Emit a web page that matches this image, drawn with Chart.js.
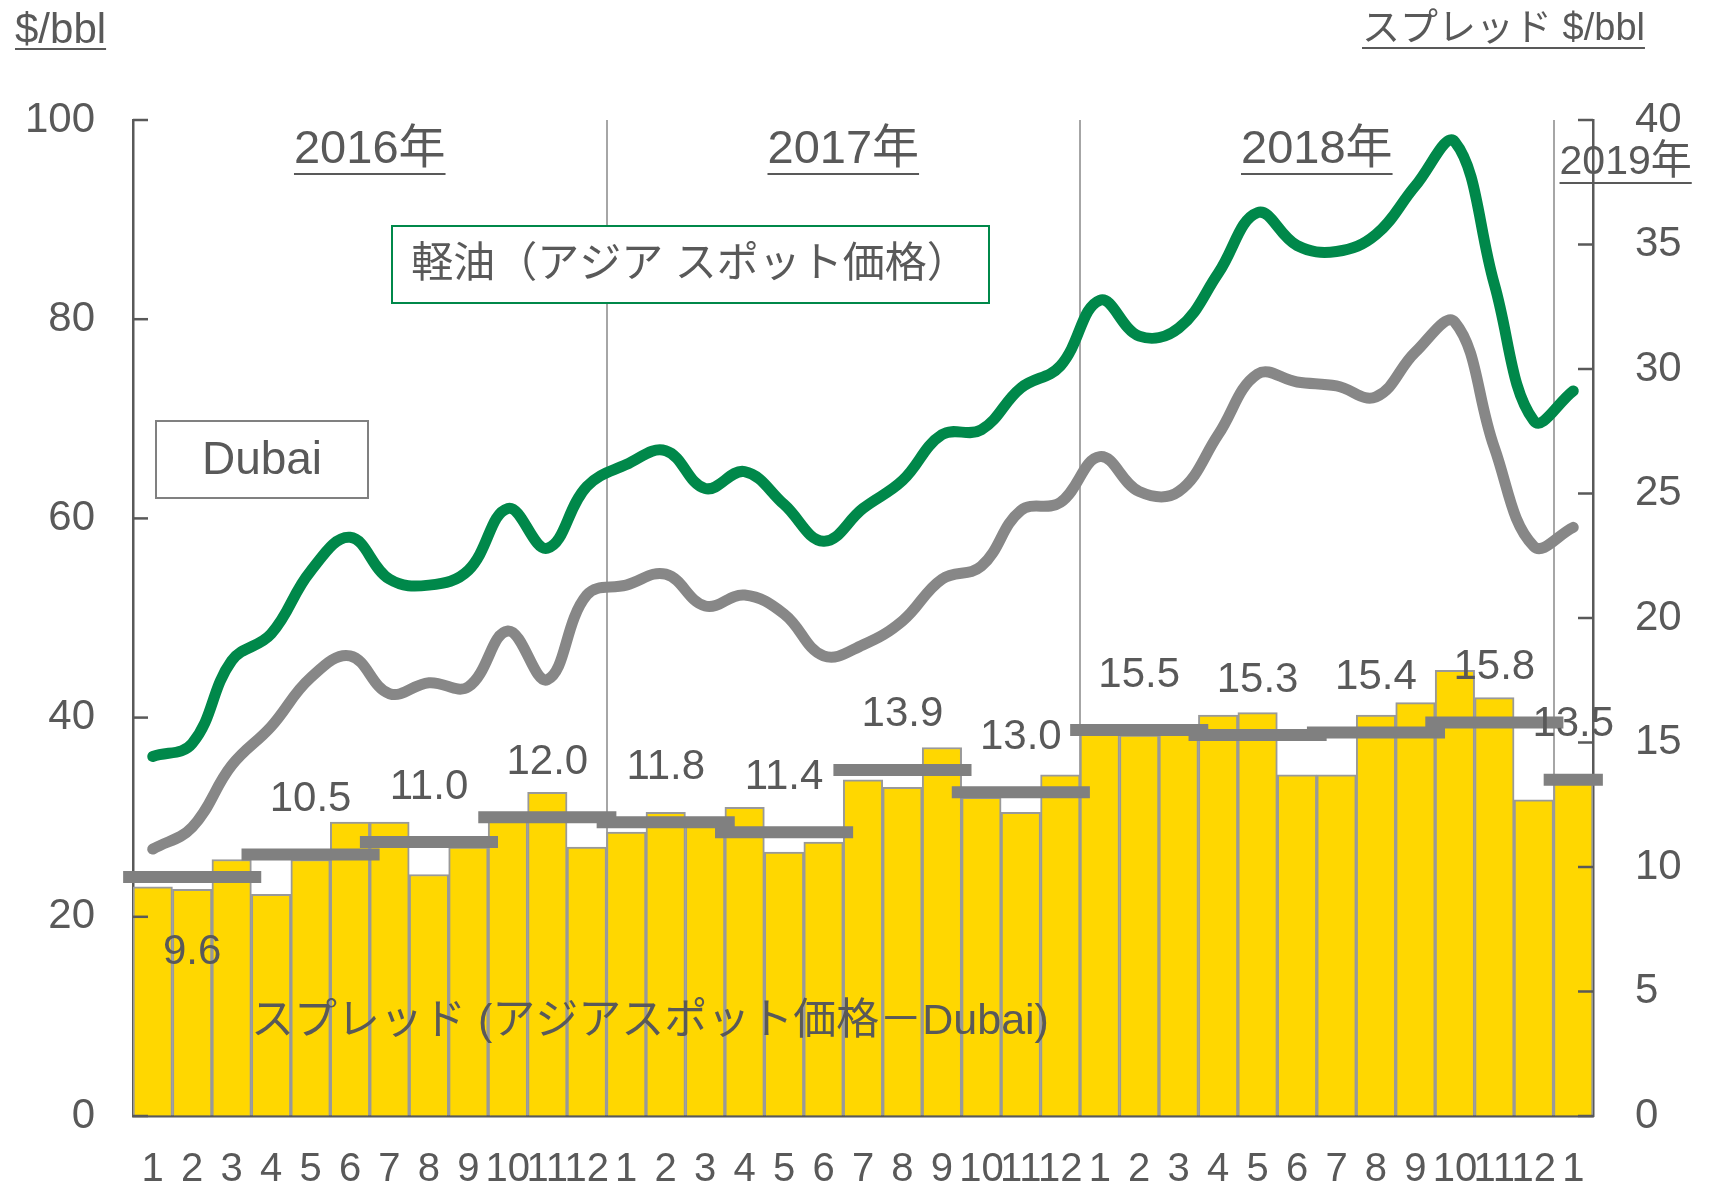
<!DOCTYPE html>
<html>
<head>
<meta charset="utf-8">
<script src="https://cdn.jsdelivr.net/npm/chart.js@4.4.1/dist/chart.umd.min.js"></script>
<style>
  html, body { margin: 0; background: #fff; }
</style>
</head>
<body>
<canvas id="chart" width="1714" height="1189"></canvas>
<script>
// months Jan 2016 .. Jan 2019
const months = ["1","2","3","4","5","6","7","8","9","10","11","12",
                "1","2","3","4","5","6","7","8","9","10","11","12",
                "1","2","3","4","5","6","7","8","9","10","11","12",
                "1"];
const years = ["2016年", "2017年", "2018年", "2019年"];

// 軽油 (アジア スポット価格), $/bbl
const diesel = [36.1, 37.4, 45.7, 48.4, 54.7, 58.1, 53.9, 53.3, 54.8, 61.0, 57.0, 63.2,
                65.4, 66.8, 63.0, 64.7, 61.4, 57.7, 61.0, 63.8, 68.4, 68.9, 73.1, 75.3,
                81.9, 78.3, 79.1, 84.6, 90.7, 87.4, 86.8, 88.5, 93.4, 97.8, 83.5, 69.8,
                72.8];
// Dubai, $/bbl
const dubai = [26.8, 29.0, 35.2, 39.1, 44.0, 46.2, 42.4, 43.5, 43.1, 48.7, 43.8, 52.3,
               53.3, 54.4, 51.2, 52.3, 50.4, 46.2, 47.3, 49.7, 53.9, 55.2, 60.8, 61.6,
               66.2, 62.7, 62.7, 68.4, 74.5, 73.7, 73.3, 72.2, 76.7, 79.7, 67.1, 57.2,
               59.1];
// スプレッド, $/bbl (right axis)
const spread = [9.2, 9.1, 10.3, 8.9, 10.3, 11.8, 11.8, 9.7, 10.8, 11.9, 13.0, 10.8,
                11.4, 12.2, 11.7, 12.4, 10.6, 11.0, 13.5, 13.2, 14.8, 12.8, 12.2, 13.7,
                15.7, 15.3, 15.5, 16.1, 16.2, 13.7, 13.7, 16.1, 16.6, 17.9, 16.8, 12.7,
                13.4];
// quarterly average spread
const quarterAvg = [9.6, 10.5, 11.0, 12.0, 11.8, 11.4, 13.9, 13.0, 15.5, 15.3, 15.4, 15.8, 13.5];
const quarterLabels = ["9.6", "10.5", "11.0", "12.0", "11.8", "11.4", "13.9", "13.0",
                       "15.5", "15.3", "15.4", "15.8", "13.5"];

const leftTicks = [0, 20, 40, 60, 80, 100];
const rightTicks = [0, 5, 10, 15, 20, 25, 30, 35, 40];

const TEXT = "#595959";
const FONT = '"Liberation Sans", "Noto Sans CJK JP", sans-serif';

// quarter average segments on a hidden linear x scale
const qPoints = [];
quarterAvg.forEach((v, q) => {
  const first = q * 3;
  const last = Math.min(first + 2, months.length - 1);
  qPoints.push({ x: first - 0.75, y: v }, { x: last + 0.75, y: v }, { x: last + 0.75, y: null });
});

function underlined(ctx, text, x, y, align, lineY) {
  ctx.textAlign = align;
  ctx.textBaseline = "middle";
  ctx.fillText(text, x, y);
  const w = ctx.measureText(text).width;
  const x0 = align === "center" ? x - w / 2 : (align === "right" ? x - w : x);
  ctx.beginPath();
  ctx.moveTo(x0, lineY);
  ctx.lineTo(x0 + w, lineY);
  ctx.stroke();
}

const inwardTicks = {
  id: "inwardTicks",
  afterDatasetsDraw(chart) {
    const { ctx } = chart;
    ctx.save();
    ctx.strokeStyle = TEXT;
    ctx.lineWidth = 2.5;
    [["yL", leftTicks, 1], ["yR", rightTicks, -1]].forEach(([id, vals, dir]) => {
      const s = chart.scales[id];
      const x0 = dir > 0 ? s.right : s.left;
      vals.forEach(v => {
        const y = s.getPixelForValue(v);
        ctx.beginPath();
        ctx.moveTo(x0, y);
        ctx.lineTo(x0 + dir * 15, y);
        ctx.stroke();
      });
    });
    ctx.restore();
  }
};

const annotations = {
  id: "annotations",
  afterDraw(chart) {
    const { ctx, scales } = chart;
    const xq = scales.xq, yR = scales.yR;
    ctx.save();
    ctx.fillStyle = TEXT;
    ctx.strokeStyle = TEXT;
    ctx.lineWidth = 2;

    // quarter average labels
    ctx.font = `42px ${FONT}`;
    ctx.textAlign = "center";
    ctx.textBaseline = "middle";
    quarterLabels.forEach((t, q) => {
      const mid = Math.min(q * 3 + 1, months.length - 1);
      const y = yR.getPixelForValue(quarterAvg[q]) + (q === 0 ? 75 : -55);
      ctx.fillText(t, xq.getPixelForValue(mid), y);
    });

    // year labels
    years.forEach((t, i) => {
      if (i < 3) {
        ctx.font = `47px ${FONT}`;
        underlined(ctx, t, xq.getPixelForValue(i * 12 + 5.5), 150, "center", 174);
      } else {
        ctx.font = `41px ${FONT}`;
        underlined(ctx, t, xq.getPixelForValue(i * 12 - 0.5) + 6, 163, "left", 183);
      }
    });

    // axis titles
    ctx.font = `42px ${FONT}`;
    underlined(ctx, "$/bbl", 15, 31, "left", 49);
    ctx.font = `38px ${FONT}`;
    underlined(ctx, "スプレッド $/bbl", 1362, 30, "left", 48);

    // series boxes
    ctx.lineWidth = 2;
    ctx.fillStyle = "#fff";
    ctx.strokeStyle = "#00884A";
    ctx.fillRect(392, 226, 597, 77);
    ctx.strokeRect(392, 226, 597, 77);
    ctx.strokeStyle = "#808080";
    ctx.fillRect(156, 421, 212, 77);
    ctx.strokeRect(156, 421, 212, 77);
    ctx.fillStyle = TEXT;
    ctx.textAlign = "center";
    ctx.font = `42px ${FONT}`;
    ctx.fillText("軽油（アジア スポット価格）", 690, 265);
    ctx.font = `46px ${FONT}`;
    ctx.fillText("Dubai", 262, 461);
    ctx.textAlign = "left";
    ctx.font = `43px ${FONT}`;
    ctx.fillText("スプレッド (アジアスポット価格－Dubai)", 251, 1022);
    ctx.restore();
  }
};

Chart.defaults.font.family = FONT;
Chart.defaults.font.size = 42;
Chart.defaults.color = TEXT;

new Chart(document.getElementById("chart").getContext("2d"), {
  type: "bar",
  data: {
    labels: months,
    datasets: [
      { type: "line", label: "軽油", data: diesel, yAxisID: "yL", borderColor: "#00884A",
        borderWidth: 11, tension: 0.4, pointRadius: 0, borderCapStyle: "round", order: 1 },
      { type: "line", label: "Dubai", data: dubai, yAxisID: "yL", borderColor: "#878787",
        borderWidth: 11, tension: 0.4, pointRadius: 0, borderCapStyle: "round", order: 2 },
      { type: "line", label: "四半期平均", data: qPoints, xAxisID: "xq", yAxisID: "yR",
        borderColor: "#808080", borderWidth: 12, tension: 0, pointRadius: 0,
        spanGaps: false, clip: 20, order: 3 },
      { label: "スプレッド", data: spread, yAxisID: "yR", backgroundColor: "#FFD700",
        borderColor: "#999999", borderWidth: 2, grouped: false,
        categoryPercentage: 1, barPercentage: 1, order: 4 }
    ]
  },
  options: {
    responsive: false,
    animation: false,
    layout: { padding: { top: 120, left: 0, right: 0, bottom: 0 } },
    plugins: { legend: { display: false }, tooltip: { enabled: false } },
    scales: {
      x: {
        offset: true,
        grid: {
          offset: true, drawTicks: false, lineWidth: 2,
          color: c => (c.index > 0 && c.index % 12 === 0) ? "#A6A6A6" : "rgba(0,0,0,0)"
        },
        border: { color: TEXT, width: 2.5 },
        ticks: { autoSkip: false, maxRotation: 0, minRotation: 0, padding: 30, color: TEXT,
                 font: { size: 40 } },
        afterFit: s => { s.height = 73; }
      },
      xq: { type: "linear", display: false, offset: false, min: -0.5, max: 36.5 },
      yL: {
        position: "left", min: 0, max: 100,
        afterBuildTicks: s => { s.ticks = leftTicks.map(v => ({ value: v })); },
        grid: { drawOnChartArea: false, drawTicks: false },
        border: { color: TEXT, width: 2.5 },
        ticks: { padding: 38, color: TEXT },
        afterFit: s => { s.width = 133; }
      },
      yR: {
        position: "right", min: 0, max: 40,
        afterBuildTicks: s => { s.ticks = rightTicks.map(v => ({ value: v })); },
        grid: { drawOnChartArea: false, drawTicks: false },
        border: { color: TEXT, width: 2.5 },
        ticks: { padding: 42, color: TEXT },
        afterFit: s => { s.width = 121; }
      }
    }
  },
  plugins: [inwardTicks, annotations]
});
</script>
</body>
</html>
